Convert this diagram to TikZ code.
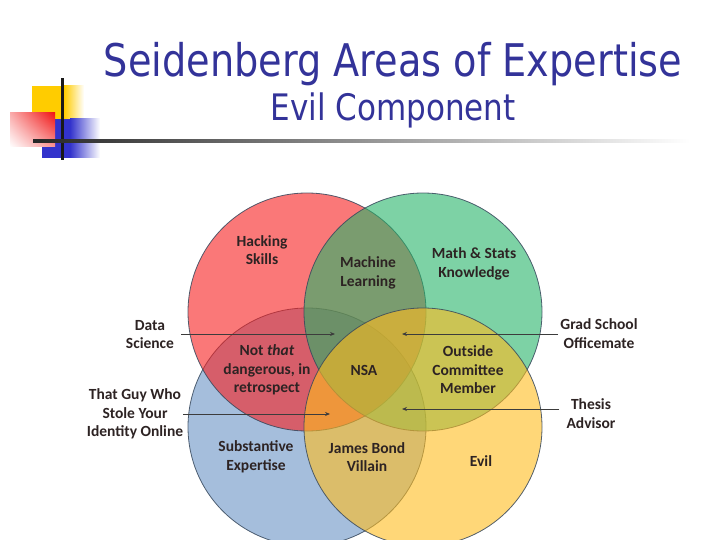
\documentclass[tikz,border=0pt]{standalone}
\usepackage{fontspec}
\setmainfont{Carlito}
\newfontfamily\titlefont{DejaVu Sans}[FakeStretch=0.85]
\usetikzlibrary{arrows.meta,shadings}
\definecolor{navy}{RGB}{51,51,153}
\definecolor{cred}{RGB}{247,30,30}
\definecolor{cgreen}{RGB}{38,180,105}
\definecolor{cblue}{RGB}{105,147,197}
\definecolor{cyellow}{RGB}{255,188,30}
\definecolor{outl}{RGB}{55,72,92}
\definecolor{labtext}{RGB}{45,35,35}
\definecolor{arrowcol}{RGB}{60,60,60}
\definecolor{logoyellow}{RGB}{255,204,0}
\definecolor{logoblue}{RGB}{51,51,204}
\definecolor{logored}{RGB}{240,20,20}
\begin{document}
\begin{tikzpicture}[x=1pt,y=-1pt,
  lab/.style={align=center, font=\bfseries\fontsize{15.5}{18.5}\selectfont, text=labtext, inner sep=2pt},
  ptr/.style={draw=arrowcol, line width=0.8pt, -{Stealth[length=5pt,width=4pt]}},
  venn/.style={fill opacity=0.6, draw=outl, draw opacity=0.85, line width=0.8pt},
  ttl/.style={text=navy, inner sep=0pt}]
\useasboundingbox (0,0) rectangle (720,540);
% logo
\fill[logoyellow] (32,86) rectangle (64,126);
\shade[left color=logoyellow, right color=white] (64,86) rectangle (84,126);
\fill[logoblue] (42,119) rectangle (70,158);
\shade[left color=logoblue, right color=white] (70,119) rectangle (100,158);
\shade[upper right=logored, upper left=logored!35!white, lower right=logored!45!white, lower left=white] (10,113) rectangle (55,147);
\fill[black!90] (60.5,78) rectangle (63.5,160);
\shade[left color=black!85, middle color=black!55, right color=white] (33,139.5) rectangle (690,142.5);
% title
\node[ttl, anchor=base, font=\titlefont\fontsize{45}{54}\selectfont] (title) at (393,77) {Seidenberg Areas of Expertise};
\node[ttl, anchor=base, font=\titlefont\fontsize{36.5}{44}\selectfont] (subtitle) at (393,121) {Evil Component};
% circles
\filldraw[venn, fill=cblue] (307,427) circle (119pt);
\filldraw[venn, fill=cred] (307,312) circle (119pt);
\filldraw[venn, fill=cgreen] (423,312) circle (119pt);
\filldraw[venn, fill=cyellow] (423,427) circle (119pt);
% labels
\node[lab] (hack) at (262,250) {Hacking\\Skills};
\node[lab] (ml) at (368,273) {Machine\\Learning};
\node[lab] (math) at (474,264) {Math \& Stats\\Knowledge};
\node[lab] (ntd) at (267,370) {Not \textit{that}\\dangerous, in\\retrospect};
\node[lab] (nsa) at (364,370) {NSA};
\node[lab] (ocm) at (468,370) {Outside\\Committee\\Member};
\node[lab] (sub) at (256,457) {Substantive\\Expertise};
\node[lab] (jbv) at (367,457) {James Bond\\Villain};
\node[lab] (evil) at (481,461) {Evil};
\node[lab] (ds) at (150,334.5) {Data\\Science};
\node[lab] (tg) at (135,414) {That Guy Who\\Stole Your\\Identity Online};
\node[lab] (gs) at (599,333.5) {Grad School\\Officemate};
\node[lab] (ta) at (591,413.5) {Thesis\\Advisor};
% arrow tips
\coordinate (tipds) at (335,334);
\coordinate (tiptg) at (330,414);
\coordinate (tipgs) at (402,334);
\coordinate (tipta) at (402,409);
\draw[ptr] ([xshift=5pt]ds.east |- tipds) -- (tipds);
\draw[ptr] ([xshift=-2pt]tg.east |- tiptg) -- (tiptg);
\draw[ptr] (gs.west |- tipgs) -- (tipgs);
\draw[ptr] ([xshift=-5pt]ta.west |- tipta) -- (tipta);
\end{tikzpicture}
\end{document}
